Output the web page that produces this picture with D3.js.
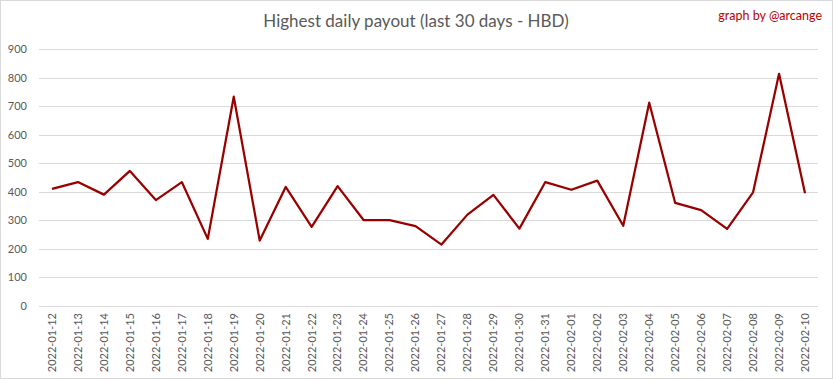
<!DOCTYPE html>
<meta charset="utf-8">
<head>
<style>
  body { margin: 0; background: #fff; }
  text { font-family: Lato, "Open Sans", sans-serif; }
</style>
</head>
<body>
  <script src="https://d3js.org/d3.v7.min.js"></script>
  <script>
    var dates = ["2022-01-12", "2022-01-13", "2022-01-14", "2022-01-15", "2022-01-16", "2022-01-17",
      "2022-01-18", "2022-01-19", "2022-01-20", "2022-01-21", "2022-01-22", "2022-01-23", "2022-01-24",
      "2022-01-25", "2022-01-26", "2022-01-27", "2022-01-28", "2022-01-29", "2022-01-30", "2022-01-31",
      "2022-02-01", "2022-02-02", "2022-02-03", "2022-02-04", "2022-02-05", "2022-02-06", "2022-02-07",
      "2022-02-08", "2022-02-09", "2022-02-10"];
    var payout = [410, 434, 390, 473, 371, 434, 235, 733, 229, 417, 277, 420, 301,
      301, 280, 215, 320, 389, 271, 434, 407, 439, 281, 712, 361, 336, 270, 398, 813, 395];
    var yTicks = [0, 100, 200, 300, 400, 500, 600, 700, 800, 900];

    var width = 833, height = 379;
    var margin = { top: 49, right: 15, bottom: 73, left: 39 };

    var svg = d3.select("body")
      .append("svg")
      .attr("width", width)
      .attr("height", height);

    // chart border
    svg.append("rect")
      .attr("x", 0.5).attr("y", 0.5)
      .attr("width", width - 1).attr("height", height - 1)
      .style("fill", "#fff")
      .style("stroke", "#d9d9d9");

    var x = d3.scaleBand()
      .domain(dates)
      .range([margin.left, width - margin.right]);

    var y = d3.scaleLinear()
      .domain([0, 900])
      .range([height - margin.bottom, margin.top]);

    // gridlines
    svg.append("g")
      .selectAll("line")
      .data(yTicks)
      .enter().append("line")
      .attr("x1", margin.left)
      .attr("x2", width - margin.right)
      .attr("y1", function (d) { return Math.round(y(d)) + 0.5; })
      .attr("y2", function (d) { return Math.round(y(d)) + 0.5; })
      .style("stroke", "#d9d9d9")
      .style("stroke-width", 1);

    // y axis labels
    var yAxis = d3.axisLeft(y).tickValues(yTicks).tickSize(0).tickPadding(12);
    svg.append("g")
      .attr("transform", "translate(" + margin.left + ",0)")
      .call(yAxis)
      .call(function (g) { g.select(".domain").remove(); })
      .selectAll("text")
      .style("font-size", "11px")
      .style("fill", "#595959");

    // x axis labels
    var xAxis = d3.axisBottom(x).tickSize(0).tickPadding(0);
    svg.append("g")
      .attr("transform", "translate(0," + (height - margin.bottom) + ")")
      .call(xAxis)
      .call(function (g) { g.select(".domain").remove(); })
      .selectAll("text")
      .attr("transform", "rotate(-90)")
      .attr("x", -7)
      .attr("y", 0)
      .attr("dy", "0.35em")
      .style("text-anchor", "end")
      .style("font-size", "11px")
      .style("fill", "#595959");

    var line = d3.line()
      .x(function (d, i) { return x(dates[i]) + x.bandwidth() / 2; })
      .y(function (d) { return y(d); });

    svg.append("path")
      .datum(payout)
      .attr("d", line)
      .style("fill", "none")
      .style("stroke", "#990000")
      .style("stroke-width", 2.25)
      .style("stroke-linejoin", "round");

    svg.append("text")
      .attr("x", 416)
      .attr("y", 27)
      .attr("text-anchor", "middle")
      .style("font-size", "17px")
      .style("fill", "#595959")
      .text("Highest daily payout (last 30 days - HBD)");

    svg.append("text")
      .attr("x", 822)
      .attr("y", 20)
      .attr("text-anchor", "end")
      .style("font-size", "12.5px")
      .style("fill", "#c00000")
      .text("graph by @arcange");
  </script>
</body>
</html>
